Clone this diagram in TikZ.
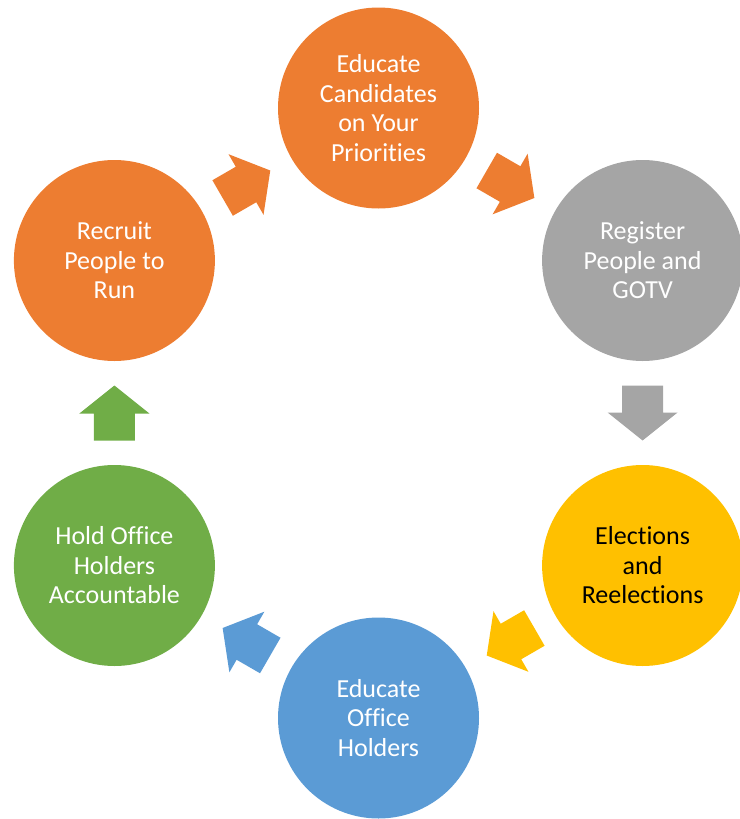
\documentclass[tikz,border=0pt]{standalone}
\usepackage{fontspec}
\setmainfont[Ligatures=NoCommon]{Carlito}
\usetikzlibrary{calc}
\definecolor{cOrange}{HTML}{ED7D31}
\definecolor{cGray}{HTML}{A5A5A5}
\definecolor{cGold}{HTML}{FFC000}
\definecolor{cBlue}{HTML}{5B9BD5}
\definecolor{cGreen}{HTML}{70AD47}
\begin{document}
\begin{tikzpicture}[x=1pt,y=-1pt,
  stage/.style={circle,minimum size=201pt,inner sep=0pt,fill=#1,text=white,
    align=center,font=\fontsize{26}{29.5}\selectfont},
  blockarrow/.pic={
    \fill (-27.5,-20.5) -- (-0.5,-20.5) -- (-0.5,-35) -- (27.5,0)
          -- (-0.5,35) -- (-0.5,20.5) -- (-27.5,20.5) -- cycle;}]
\useasboundingbox (0,0) rectangle (739,819);
\coordinate (hub) at (378.5,413);
% the six stages of the cycle, clockwise from the top
\node[stage=cOrange] (educand) at ($(hub)+(0,-305)$) {Educate\\Candidates\\on Your\\Priorities};
\node[stage=cGray]   (register) at ($(hub)+(264.1,-152.5)$) {Register\\People and\\GOTV};
\node[stage=cGold,text=black] (elect) at ($(hub)+(264.1,152.5)$) {Elections\\and\\Reelections};
\node[stage=cBlue]   (eduoff) at ($(hub)+(0,305)$) {Educate\\Office\\Holders};
\node[stage=cGreen]  (hold) at ($(hub)+(-264.1,152.5)$) {Hold Office\\Holders\\Accountable};
\node[stage=cOrange] (recruit) at ($(hub)+(-264.1,-152.5)$) {Recruit\\People to\\Run};
% block arrows halfway between consecutive stages
\pic[cOrange,rotate=30]  at ($(recruit)!0.5!(educand)$) {blockarrow};
\pic[cOrange,rotate=-30] at ($(educand)!0.5!(register)$) {blockarrow};
\pic[cGray,rotate=-90]   at ($(register)!0.5!(elect)$) {blockarrow};
\pic[cGold,rotate=-150]  at ($(elect)!0.5!(eduoff)$) {blockarrow};
\pic[cBlue,rotate=150]   at ($(eduoff)!0.5!(hold)$) {blockarrow};
\pic[cGreen,rotate=90]   at ($(hold)!0.5!(recruit)$) {blockarrow};
\end{tikzpicture}
\end{document}
